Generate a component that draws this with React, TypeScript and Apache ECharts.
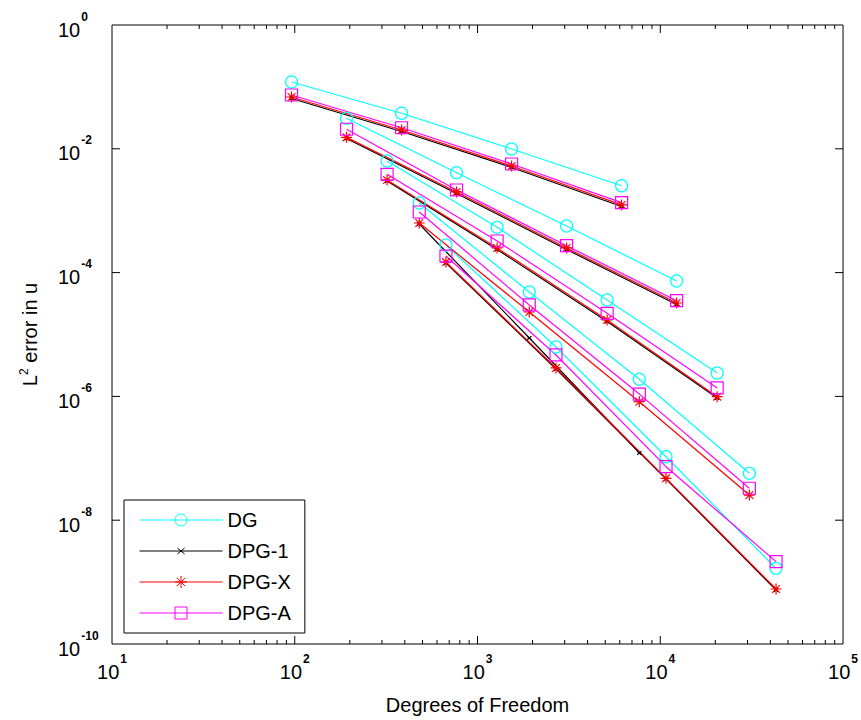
import React, { useEffect, useRef } from "react";
import * as echarts from "echarts";

const FONT = '"Liberation Sans", Arial, Helvetica, sans-serif';

// Degrees of freedom per polynomial order (x values)
const dofP1 = [96, 384, 1536, 6144];
const dofP2 = [192, 768, 3072, 12288];
const dofP3 = [320, 1280, 5120, 20480];
const dofP4 = [480, 1920, 7680, 30720];
const dofP5 = [672, 2688, 10752, 43008];

// DG
const dgP1 = [0.12, 0.0375, 0.00993, 0.00253];
const dgP2 = [0.0311, 0.00411, 0.000566, 0.0000732];
const dgP3 = [0.00635, 0.000539, 0.0000361, 0.00000239];
const dgP4 = [0.00133, 0.0000486, 0.00000189, 5.72e-8];
const dgP5 = [0.000279, 0.00000628, 1.06e-7, 1.67e-9];

// DPG-1
const dpg1P1 = [0.065, 0.019, 0.00499, 0.00117];
const dpg1P2 = [0.0147, 0.0019, 0.000236, 0.0000305];
const dpg1P3 = [0.00302, 0.000236, 0.0000162, 9.42e-7];
const dpg1P4 = [0.00061, 0.00000878, 1.22e-7];
const dpg1P5 = [0.000143, 0.00000277, 4.63e-8, 7.45e-10];

// DPG-X
const dpgxP1 = [0.0687, 0.0201, 0.00527, 0.00124];
const dpgxP2 = [0.0153, 0.00201, 0.00025, 0.0000323];
const dpgxP3 = [0.00313, 0.00025, 0.0000172, 9.89e-7];
const dpgxP4 = [0.000633, 0.0000231, 8.21e-7, 2.55e-8];
const dpgxP5 = [0.000148, 0.00000288, 4.75e-8, 7.74e-10];

// DPG-A
const dpgaP1 = [0.074, 0.0219, 0.00568, 0.00135];
const dpgaP2 = [0.0207, 0.00216, 0.000272, 0.0000352];
const dpgaP3 = [0.00387, 0.000324, 0.000022, 0.00000137];
const dpgaP4 = [0.000953, 0.00003, 0.00000109, 3.28e-8];
const dpgaP5 = [0.000185, 0.00000467, 7.32e-8, 2.14e-9];

const legendNames = ["DG", "DPG-1", "DPG-X", "DPG-A"];

// Axis ranges, tick values and tick-label values
const xMin = 10;
const xMax = 100000;
const yMin = 1e-10;
const yMax = 1;
const xLabelValues = [10, 100, 1000, 10000, 100000];
const yLabelValues = [1e-10, 1e-8, 1e-6, 1e-4, 1e-2, 1];
const xMajorTicks = [100, 1000, 10000];
const xMinorTicks: number[] = [];
for (const d of [10, 100, 1000, 10000]) {
  for (const k of [2, 3, 4, 5, 6, 7, 8, 9]) xMinorTicks.push(k * d);
}
const yMajorTicks = [1e-2, 1e-4, 1e-6, 1e-8];

const STAR = "path://M5,0L5,10M0,5L10,5M1.5,1.5L8.5,8.5M8.5,1.5L1.5,8.5";
const CROSS = "path://M0,0M10,10M2,2.5L8,7.5M8,2.5L2,7.5";

const styles: Record<string, any> = {
  DG: { color: "#00FFFF", symbol: "circle", size: 12 },
  "DPG-1": { color: "#000000", symbol: CROSS, size: 7 },
  "DPG-X": { color: "#FF0000", symbol: STAR, size: 11 },
  "DPG-A": { color: "#FF00FF", symbol: "rect", size: 12 },
};

function mk(name: string, xs: number[], ys: number[]) {
  const s = styles[name];
  return {
    type: "line",
    name,
    data: ys.map((y, i) => [xs[i], y]),
    symbol: s.symbol,
    symbolSize: s.size,
    showSymbol: true,
    lineStyle: { color: s.color, width: 1.2 },
    itemStyle: { color: "rgba(0,0,0,0)", borderColor: s.color, borderWidth: 1.2 },
    silent: true,
    emphasis: { disabled: true },
  };
}

export default function App() {
  const ref = useRef<HTMLDivElement>(null);
  useEffect(() => {
    if (!ref.current) return;
    const chart = echarts.init(ref.current, null, { renderer: "svg" });
    const dofs = [dofP1, dofP2, dofP3, dofP4, dofP5];
    const series: any[] = [];
    [dgP1, dgP2, dgP3, dgP4, dgP5].forEach((ys, i) => series.push(mk("DG", dofs[i], ys)));
    [dpg1P1, dpg1P2, dpg1P3, dpg1P4, dpg1P5].forEach((ys, i) => series.push(mk("DPG-1", dofs[i], ys)));
    [dpgxP1, dpgxP2, dpgxP3, dpgxP4, dpgxP5].forEach((ys, i) => series.push(mk("DPG-X", dofs[i], ys)));
    [dpgaP1, dpgaP2, dpgaP3, dpgaP4, dpgaP5].forEach((ys, i) => series.push(mk("DPG-A", dofs[i], ys)));

    const tickData: number[][] = [
      ...xMajorTicks.map((v) => [v, 1, 0]),
      ...xMinorTicks.map((v) => [v, 1, 1]),
      ...yMajorTicks.map((v) => [10, v, 2]),
    ];
    const tickStyle = { stroke: "#000", lineWidth: 1 };
    series.push({
      type: "custom",
      silent: true,
      data: tickData,
      renderItem: (params: any, api: any) => {
        const kind = api.value(2);
        if (kind < 2) {
          const x = api.value(0);
          const b = api.coord([x, yMin]);
          const t = api.coord([x, yMax]);
          const len = kind === 0 ? 8 : 4;
          return {
            type: "group",
            children: [
              { type: "line", shape: { x1: b[0], y1: b[1], x2: b[0], y2: b[1] - len }, style: tickStyle },
              { type: "line", shape: { x1: t[0], y1: t[1], x2: t[0], y2: t[1] + len }, style: tickStyle },
            ],
          };
        }
        const y = api.value(1);
        const l = api.coord([xMin, y]);
        const r = api.coord([xMax, y]);
        return {
          type: "group",
          children: [
            { type: "line", shape: { x1: l[0], y1: l[1], x2: l[0] + 8, y2: l[1] }, style: tickStyle },
            { type: "line", shape: { x1: r[0], y1: r[1], x2: r[0] - 8, y2: r[1] }, style: tickStyle },
          ],
        };
      },
    });

    const rich = {
      b: { fontSize: 20, fontFamily: FONT, color: "#000", verticalAlign: "bottom" },
      sup: { fontSize: 12, fontWeight: "bold", fontFamily: FONT, color: "#000", verticalAlign: "bottom", padding: [0, 0, 17, 1] },
    };

    chart.setOption({
      animation: false,
      backgroundColor: "#fff",
      grid: { left: 112, right: 16, top: 25, bottom: 76, show: true, borderColor: "#000", borderWidth: 1, backgroundColor: "#fff" },
      legend: {
        data: legendNames,
        orient: "vertical",
        left: 124,
        top: 500,
        itemWidth: 83,
        itemHeight: 15,
        itemGap: 11,
        padding: [10, 14, 10, 15],
        borderColor: "#000",
        borderWidth: 1,
        backgroundColor: "#fff",
        itemStyle: { borderWidth: 1 },
        lineStyle: { width: 1 },
        selectedMode: false,
        textStyle: { fontSize: 20, fontFamily: FONT, color: "#000", lineHeight: 20 },
      },
      xAxis: {
        type: "log",
        logBase: 10,
        min: xMin,
        max: xMax,
        name: "Degrees of Freedom",
        nameLocation: "middle",
        nameGap: 51,
        nameTextStyle: { fontSize: 20, fontFamily: FONT, color: "#000" },
        axisLine: { show: false },
        axisTick: { show: false },
        splitLine: { show: false },
        axisLabel: {
          margin: 9,
          customValues: xLabelValues,
          formatter: (v: number) => `{b|10}{sup|${Math.round(Math.log10(v))}}`,
          rich,
        },
      },
      yAxis: {
        type: "log",
        logBase: 10,
        min: yMin,
        max: yMax,
        splitNumber: 20,
        name: "L{sup|2} error in u",
        nameLocation: "middle",
        nameGap: 70,
        nameTextStyle: {
          fontSize: 20,
          fontFamily: FONT,
          color: "#000",
          rich: { sup: { fontSize: 12, fontFamily: FONT, color: "#000", verticalAlign: "bottom", padding: [0, 0, 12, 0] } },
        },
        axisLine: { show: false },
        axisTick: { show: false },
        splitLine: { show: false },
        axisLabel: {
          align: "left",
          margin: 54,
          customValues: yLabelValues,
          formatter: (v: number) => {
            const e = Math.round(Math.log10(v));
            if (e % 2 !== 0) return "";
            return `{b|10}{sup|${e}}`;
          },
          rich,
        },
      },
      series,
    });
    return () => chart.dispose();
  }, []);
  return <div ref={ref} style={{ position: "fixed", left: 0, top: 0, width: 861, height: 720 }} />;
}
